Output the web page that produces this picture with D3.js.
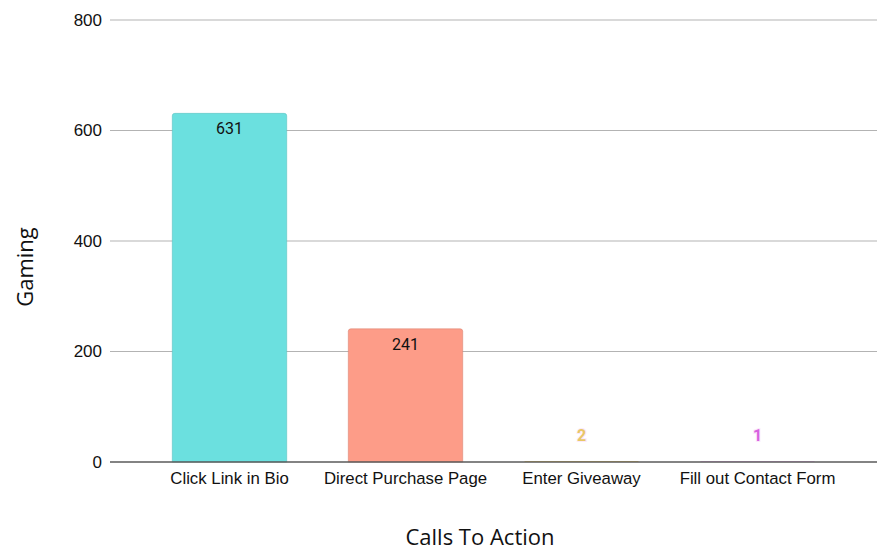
<!DOCTYPE html>
<html><head><meta charset="utf-8">
<script src="https://cdn.jsdelivr.net/npm/d3@7"></script>
<style>body{margin:0;background:#fff}</style>
</head><body>
<svg id="c" width="889" height="550"></svg>
<script>
const categories = ["Click Link in Bio","Direct Purchase Page","Enter Giveaway","Fill out Contact Form"];
const values = [631,241,2,1];
const barColors = ["#6be0df","#fd9c88","#f2cd6a","#dc6fe3"];
const labelColors = ["#111","#111","#e8c766","#d762e0"];
const yTicks = [0,200,400,600,800];

const svg = d3.select("#c");
const plotLeft = 110, plotRight = 877, plotTop = 20, plotBottom = 462;
const x = d3.scaleBand().domain(categories).range([141.5,845.5]).paddingInner(0.35).paddingOuter(0.175);
const y = d3.scaleLinear().domain([0,800]).range([plotBottom, plotTop]);

// grid
svg.append("g").selectAll("line").data(yTicks.filter(d=>d>0)).join("line")
  .attr("x1",plotLeft).attr("x2",plotRight).attr("y1",d=>y(d)).attr("y2",d=>y(d))
  .attr("stroke","#b3b3b3").attr("stroke-width",1.2);

// y axis labels
const ya = svg.append("g").attr("transform",`translate(${plotLeft},0)`)
  .call(d3.axisLeft(y).tickValues(yTicks).tickSize(0).tickPadding(8));
ya.select(".domain").remove();
ya.selectAll("text").attr("font-family","Liberation Sans, Arial, sans-serif").attr("font-size",17).attr("fill","#111");

// bars with rounded tops
const r = 2.5;
svg.append("g").selectAll("path").data(values).join("path")
  .attr("d",(d,i)=>{
    const x0 = x(categories[i]), w = x.bandwidth(), y0 = y(d), h = plotBottom - y0;
    const rr = Math.min(r, h);
    return `M${x0},${plotBottom}V${y0+rr}Q${x0},${y0} ${x0+rr},${y0}H${x0+w-rr}Q${x0+w},${y0} ${x0+w},${y0+rr}V${plotBottom}Z`;
  })
  .attr("fill",(d,i)=>barColors[i])
  .attr("stroke",(d,i)=> d > 50 ? d3.color(barColors[i]).darker(0.4) : "none")
  .attr("stroke-width",0.6);

// baseline
svg.append("line").attr("x1",plotLeft).attr("x2",plotRight).attr("y1",plotBottom).attr("y2",plotBottom)
  .attr("stroke","#5a5a5a").attr("stroke-width",1.6);

// x axis labels
const xa = svg.append("g").attr("transform",`translate(0,${plotBottom})`)
  .call(d3.axisBottom(x).tickSize(0).tickPadding(10));
xa.select(".domain").remove();
xa.selectAll("text").attr("font-family","Liberation Sans, Arial, sans-serif").attr("font-size",16.8).attr("fill","#111");

// value labels
svg.append("g").selectAll("text").data(values).join("text")
  .attr("x",(d,i)=>x(categories[i])+x.bandwidth()/2)
  .attr("y",(d,i)=> d > 50 ? y(d)+21 : y(d)-20)
  .attr("text-anchor","middle")
  .attr("font-family","Roboto, sans-serif").attr("font-size",16)
  .attr("font-weight",(d)=> d > 50 ? 400 : 700)
  .attr("fill",(d,i)=>labelColors[i])
  .attr("stroke",(d,i)=> d > 50 ? "none" : "#fbe9fb")
  .attr("stroke-width",2).attr("paint-order","stroke")
  .text(d=>d);

// axis titles
svg.append("text").attr("x",480).attr("y",545).attr("text-anchor","middle")
  .attr("font-family","Open Sans, sans-serif").attr("font-size",22).attr("fill","#111")
  .text("Calls To Action");
svg.append("text").attr("transform","translate(33,267) rotate(-90)").attr("text-anchor","middle")
  .attr("font-family","Open Sans, sans-serif").attr("font-size",22).attr("fill","#111")
  .text("Gaming");
</script>
</body></html>
